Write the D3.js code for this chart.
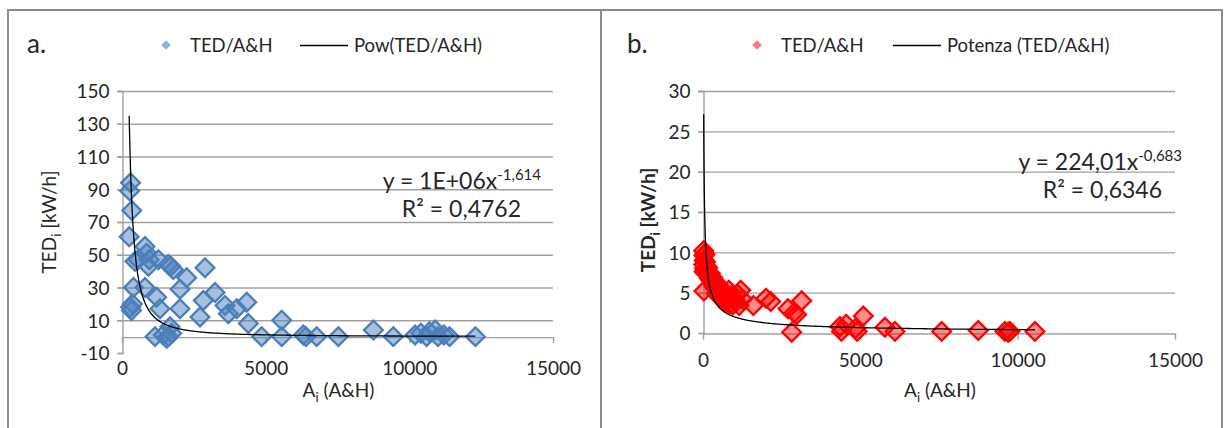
<!DOCTYPE html>
<html>
<head>
<meta charset="utf-8">
<script src="https://cdn.jsdelivr.net/npm/d3@7"></script>
<style>
  body { margin: 0; background: #fff; }
  svg { display: block; }
  text { font-family: Lato, "Open Sans", "Noto Sans", sans-serif; fill: #262626; }
</style>
</head>
<body>
<svg id="chart" width="1228" height="428"></svg>
<script>
// ---- Data ----
const xTicks = [0, 5000, 10000, 15000];
const yTicksA = [-10, 10, 30, 50, 70, 90, 110, 130, 150];
const yTicksB = [0, 5, 10, 15, 20, 25, 30];

// Panel a: Pow fit of TED vs A&H
const areaA = [250, 265, 300, 340, 300, 330, 360, 400, 450, 560, 800, 860, 920, 950, 800,
  1265, 1206, 1322, 1612, 1786, 1700, 2251, 2019, 2019, 2889, 2830, 2715, 3237, 3585, 3700,
  3992, 4340, 4397, 1671, 1149, 1438, 1555, 1729, 1620, 4862, 5558, 5558, 6311, 6400, 6775,
  7530, 8750, 9443, 10200, 10400, 10600, 10700, 10900, 11000, 11200, 11400, 12300];
const tedA = [61, 89, 94, 77, 18, 16, 20, 30, 46, 47, 55, 51, 43, 47, 30,
  47, 24, 17, 44, 41, 43, 36, 29, 17, 42, 22, 12, 27, 19, 14,
  17, 21, 8, 6, 0, 1, -1, 2, 0, 0, 10, 0, 1, 0, 0,
  0, 4, 0, 1, 2, 0, 3, 4, 0, 1, 0, 0];
const fitA = { coef: 1e6, exp: -1.614, r2: "0,4762", coefLabel: "1E+06", expLabel: "-1,614" };

// Panel b: Potenza fit of TED vs A&H
const areaB = [22, 30, 40, 25, 50, 35, 60, 80, 100, 30,
  120, 150, 180, 200, 230, 260, 300, 320, 350, 380, 400, 420, 450, 480, 500,
  550, 580, 620, 650, 700, 740, 780, 820, 850, 900, 950, 1000,
  1050, 1100, 1150, 1200, 1250,
  1600, 2000, 2150, 2700, 2818, 2900, 2977, 3136, 4353, 4400, 4550, 4850, 4900,
  5095, 5783, 6100, 7584, 8748, 9596, 9755, 9700, 10549];
const tedB = [10.2, 9.6, 9.0, 8.5, 8.0, 7.6, 9.8, 8.8, 8.3, 5.2,
  7.6, 8.1, 7.2, 6.8, 7.4, 6.5, 6.9, 6.1, 5.8, 6.4, 5.5, 4.9, 6.0, 5.2, 4.6,
  5.6, 4.3, 5.0, 4.0, 4.7, 3.8, 4.4, 5.3, 3.6, 4.6, 3.5, 4.2,
  3.9, 4.8, 3.4, 5.3, 4.2,
  3.4, 4.3, 3.9, 3.0, 0.1, 2.5, 2.3, 4.0, 0.8, 0.2, 1.1, 0.6, 0.2,
  2.1, 0.7, 0.2, 0.2, 0.3, 0.2, 0.2, 0.1, 0.2];
const fitB = { coef: 224.01, exp: -0.683, r2: "0,6346", coefLabel: "224,01", expLabel: "-0,683" };

// ---- Drawing ----
const svg = d3.select("#chart");
const FONT = "Lato, 'Open Sans', sans-serif";

// outer frame and divider
svg.append("rect").attr("x", 8).attr("y", 10).attr("width", 1214).attr("height", 430)
  .attr("fill", "none").attr("stroke", "#8c8c8c").attr("stroke-width", 2);
svg.append("line").attr("x1", 601).attr("x2", 601).attr("y1", 10).attr("y2", 428)
  .attr("stroke", "#8c8c8c").attr("stroke-width", 2);

function drawPanel(p) {
  const g = svg.append("g");
  const x = d3.scaleLinear().domain([0, 15000]).range(p.xRange);
  const y = d3.scaleLinear().domain(p.yDomain).range(p.yRange);
  const grid = "#a0a0a0";

  // horizontal gridlines
  g.selectAll(".grid").data(p.yTicks.filter(v => v !== 0 && v !== p.yDomain[0]))
    .join("line")
    .attr("x1", p.xRange[0] - 5).attr("x2", p.xRange[1])
    .attr("y1", d => y(d) + 0.5).attr("y2", d => y(d) + 0.5)
    .attr("stroke", grid).attr("stroke-width", 1.4);

  // vertical axis with outward ticks
  const yAxis = d3.axisLeft(y).tickValues(p.yTicks).tickSize(5).tickPadding(8)
    .tickFormat(d => String(d));
  const ya = g.append("g").attr("transform", `translate(${p.xRange[0] + 0.5},0)`).call(yAxis);
  ya.select(".domain").attr("stroke", grid).attr("stroke-width", 1.4);
  ya.selectAll(".tick line").attr("stroke", grid).attr("stroke-width", 1.4);
  ya.selectAll(".tick text").style("font-size", "19px").attr("fill", "#262626")
    .style("font-family", FONT).attr("dy", "0.36em");

  // horizontal axis on y = 0, ticks pointing down
  const xAxis = d3.axisBottom(x).tickValues(xTicks).tickSize(6).tickSizeOuter(0).tickFormat(d => String(d));
  const xa = g.append("g").attr("transform", `translate(0,${y(0) + 0.5})`).call(xAxis);
  xa.select(".domain").attr("stroke", grid).attr("stroke-width", 1.4);
  xa.selectAll(".tick line").attr("stroke", grid).attr("stroke-width", 1.4);
  xa.selectAll(".tick text").style("font-size", "19px").attr("fill", "#262626")
    .style("font-family", FONT)
    .attr("dy", null).attr("y", p.xLabelY - y(0));

  // scatter markers (diamonds)
  const diamond = d3.symbol().type(d3.symbolSquare).size(p.markerSize);
  const pts = p.xs.map((v, i) => [v, p.ys[i]]);
  g.append("g").selectAll("path").data(pts).join("path")
    .attr("d", diamond)
    .attr("transform", d => `translate(${x(d[0])},${y(d[1])}) rotate(45)`)
    .attr("fill", p.fill).attr("stroke", p.stroke).attr("stroke-width", 2.3);

  // power trendline over the data range
  const xmin = d3.min(p.xs), xmax = d3.max(p.xs);
  const samples = d3.range(0, 401).map(i => xmin * Math.pow(xmax / xmin, i / 400));
  g.append("path")
    .datum(samples)
    .attr("fill", "none").attr("stroke", "#000").attr("stroke-width", 1.3)
    .attr("d", d3.line().x(d => x(d)).y(d => y(p.fit.coef * Math.pow(d, p.fit.exp))));

  // equation and R²
  const eq = g.append("text").attr("x", p.eqX).attr("y", p.eqY).attr("text-anchor", "end")
    .style("font-size", "23px");
  eq.append("tspan").text(`y = ${p.fit.coefLabel}x`);
  eq.append("tspan").text(p.fit.expLabel).attr("dy", -9).style("font-size", "15px");
  g.append("text").attr("x", p.r2X).attr("y", p.eqY + 28).attr("text-anchor", "end")
    .style("font-size", "23px").text(`R² = ${p.fit.r2}`);

  // axis titles
  const yt = g.append("text")
    .attr("transform", `translate(${p.yTitleX},${p.yTitleY}) rotate(-90)`)
    .attr("text-anchor", "middle").style("font-size", "19px")
    .style("font-weight", p.yTitleBold ? "bold" : "normal");
  yt.append("tspan").text("TED");
  yt.append("tspan").text("i").attr("dy", 5).style("font-size", "13px");
  yt.append("tspan").text(" [kW/h]").attr("dy", -5);

  const xt = g.append("text").attr("x", (p.xRange[0] + p.xRange[1]) / 2 + 1).attr("y", p.xTitleY)
    .attr("text-anchor", "middle").style("font-size", "19px");
  xt.append("tspan").text("A");
  xt.append("tspan").text("i").attr("dy", 5).style("font-size", "13px");
  xt.append("tspan").text(" (A&H)").attr("dy", -5);

  // panel letter
  g.append("text").attr("x", p.letterX).attr("y", 53).style("font-size", "26px").text(p.letter);

  // legend
  const lg = g.append("g");
  lg.append("path").attr("d", d3.symbol().type(d3.symbolSquare).size(46)())
    .attr("transform", `translate(${p.legX},45) rotate(45)`)
    .attr("fill", p.legFill).attr("stroke", "none");
  lg.append("text").attr("x", p.legX + 24).attr("y", 52).style("font-size", "18.5px").text("TED/A&H");
  lg.append("line").attr("x1", p.legLineX).attr("x2", p.legLineX + 48).attr("y1", 45.5).attr("y2", 45.5)
    .attr("stroke", "#000").attr("stroke-width", 1.3);
  lg.append("text").attr("x", p.legLineX + 54).attr("y", 52).style("font-size", "18.5px").text(p.fitName);
}

drawPanel({
  xs: areaA, ys: tedA, fit: fitA, yTicks: yTicksA,
  xRange: [122, 553], yDomain: [-10, 150], yRange: [353, 91],
  xLabelY: 374, xTitleY: 397, yTitleX: 56, yTitleY: 222, yTitleBold: false,
  eqX: 541, eqY: 189, r2X: 521,
  markerSize: 175, fill: "rgba(79,129,189,0.5)", stroke: "#4a7ebb",
  legFill: "#95b3d7", letter: "a.", letterX: 27, legX: 166, legLineX: 300,
  fitName: "Pow(TED/A&H)"
});

drawPanel({
  xs: areaB, ys: tedB, fit: fitB, yTicks: yTicksB,
  xRange: [703, 1175], yDomain: [0, 30], yRange: [333, 91],
  xLabelY: 366, xTitleY: 397, yTitleX: 655, yTitleY: 220, yTitleBold: true,
  eqX: 1182, eqY: 170, r2X: 1162,
  markerSize: 175, fill: "rgba(255,0,0,0.45)", stroke: "#ff0000",
  legFill: "#ff7777", letter: "b.", letterX: 627, legX: 757, legLineX: 893,
  fitName: "Potenza (TED/A&H)"
});
</script>
</body>
</html>
